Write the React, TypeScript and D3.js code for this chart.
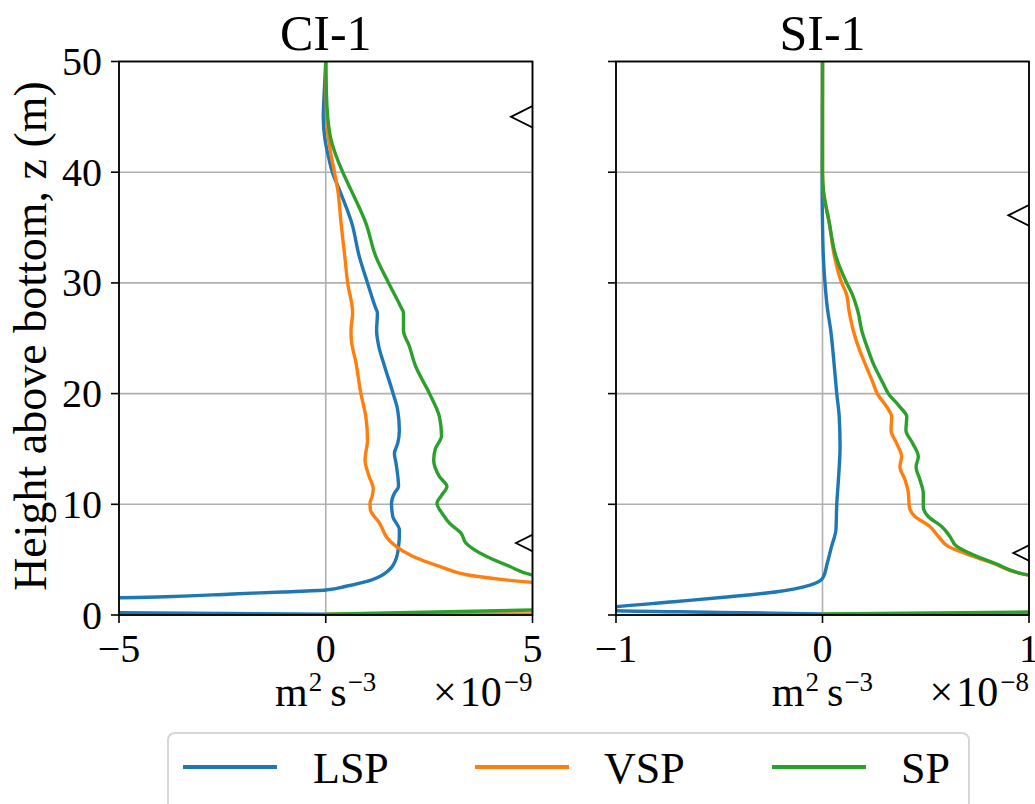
import React from "react";
import * as d3 from "d3";

// ---------- DATA ----------
// CI-1 panel (values in units of 1e-9 m^2 s^-3), z in metres
const CI_LSP_Z = [0.07, 0.22, 0.5, 1.0, 1.56, 1.65, 1.9, 2.08, 2.26, 2.6, 3.2, 4.1, 5.3, 6.2, 7.1, 7.7, 8.9, 10.1, 11.0, 11.6, 13.7, 14.6, 15.5, 16.7, 18.5, 20, 22.5, 24.3, 25.7, 27.3, 27.8, 30, 32.4, 35.4, 38.4, 40, 41.5, 43, 45, 47, 50];
const CI_LSP = [0, -5.3, -40, -40, -5, -3.87, -2.26, -1.05, 0, 0.49, 1.13, 1.54, 1.72, 1.76, 1.78, 1.78, 1.62, 1.59, 1.66, 1.76, 1.7, 1.66, 1.74, 1.78, 1.74, 1.63, 1.42, 1.28, 1.23, 1.25, 1.2, 1.01, 0.81, 0.63, 0.33, 0.16, 0.06, -0.02, -0.06, -0.04, 0];

const CI_VSP_Z = [0.07, 0.12, 0.5, 1.5, 2.5, 2.95, 3.5, 4.4, 5.3, 6.2, 7.1, 7.7, 8.3, 9.5, 10.1, 10.7, 11.4, 12.5, 14.0, 15.8, 17.9, 20, 22.8, 24.8, 25.7, 27.3, 30, 32.4, 35.4, 38.4, 40, 42.9, 45, 50];
const CI_VSP = [0, 8, 60, 30, 7, 5.0, 3.64, 2.75, 2.1, 1.7, 1.46, 1.38, 1.3, 1.08, 1.07, 1.12, 1.15, 1.05, 0.95, 1.01, 0.97, 0.85, 0.73, 0.62, 0.61, 0.65, 0.53, 0.46, 0.37, 0.29, 0.21, 0.07, 0.02, 0];

const CI_SP_Z = [0.07, 0.45, 0.8, 1.5, 2.5, 3.0, 3.6, 4.4, 5.3, 6.5, 7.4, 8.3, 9.0, 10.1, 10.8, 11.6, 12.5, 14.0, 15.0, 16.2, 17.9, 20, 22.5, 24.3, 25.7, 27.3, 27.8, 30, 32.4, 35.4, 38.4, 40, 42.9, 45.9, 50];
const CI_SP = [0, 5.0, 10, 15, 8, 6, 5.0, 4.44, 3.88, 3.39, 3.27, 2.99, 2.85, 2.69, 2.8, 2.93, 2.75, 2.61, 2.65, 2.8, 2.75, 2.51, 2.17, 2.02, 1.88, 1.88, 1.82, 1.52, 1.21, 0.97, 0.61, 0.41, 0.13, 0.03, 0];

const CI_MARK_Z = [45.0, 6.5];
const CI_MARK_TIP = [4.48, 4.6];

// SI-1 panel (values in units of 1e-8 m^2 s^-3)
const SI_LSP_Z = [0.09, 0.24, 0.39, 0.55, 0.75, 1.2, 1.65, 2.1, 2.7, 3.3, 4.67, 6.2, 7.7, 10, 12.2, 15.2, 17.9, 20, 22.7, 25.7, 27.8, 30, 32.4, 35.4, 38.7, 50];
const SI_LSP = [0, -0.5, -1.0, -1.1, -1.0, -0.72, -0.45, -0.22, -0.06, 0, 0.023, 0.044, 0.065, 0.069, 0.077, 0.085, 0.081, 0.069, 0.056, 0.04, 0.023, 0.012, 0.004, 0, -0.002, 0];

const SI_VSP_Z = [0.05, 0.15, 1, 2.5, 3.6, 4.67, 5.3, 6.2, 7.1, 8.0, 8.9, 9.8, 11.0, 12.2, 13.4, 14.3, 15.5, 16.7, 17.9, 18.8, 20, 20.9, 22.7, 23.9, 25.7, 27.3, 29.1, 30, 32.4, 35.4, 38.4, 40, 50];
const SI_VSP = [0, 2, 5, 2, 1.0, 0.827, 0.73, 0.609, 0.561, 0.52, 0.448, 0.42, 0.416, 0.4, 0.375, 0.383, 0.359, 0.332, 0.335, 0.311, 0.265, 0.246, 0.206, 0.18, 0.149, 0.13, 0.114, 0.093, 0.058, 0.033, 0.004, 0, 0];

const SI_SP_Z = [0.09, 0.27, 0.5, 2, 3.6, 4.67, 5.3, 6.2, 7.1, 8.0, 8.9, 9.8, 11.0, 12.2, 13.4, 14.3, 15.5, 16.7, 17.9, 18.8, 20, 20.9, 22.7, 23.9, 25.7, 27.3, 29.1, 30, 32.4, 35.4, 38.4, 40, 50];
const SI_SP = [0, 1.0, 3, 3, 1.0, 0.835, 0.747, 0.65, 0.617, 0.577, 0.512, 0.488, 0.488, 0.472, 0.453, 0.464, 0.437, 0.404, 0.408, 0.375, 0.319, 0.294, 0.246, 0.222, 0.19, 0.173, 0.141, 0.117, 0.065, 0.033, 0.004, 0, 0];

const SI_MARK_Z = [36.1, 5.6];
const SI_MARK_TIP = [0.9, 0.924];

const SERIES = ["LSP", "VSP", "SP"];
const COLORS = ["#1f77b4", "#ff7f0e", "#2ca02c"];
const Y_TICKS = [0, 10, 20, 30, 40, 50];
const CI_X_TICKS = [-5, 0, 5];
const SI_X_TICKS = [-1, 0, 1];
const TITLES = ["CI-1", "SI-1"];
const EXPONENTS = ["9", "8"];

const FONT = "Liberation Serif, DejaVu Serif, serif";
const TOP = 61.5;
const BOTTOM = 615;

function fmt(v: number) {
  return v < 0 ? "\u2212" + Math.abs(v) : String(v);
}

type PanelProps = {
  id: string;
  left: number;
  right: number;
  domain: [number, number];
  xTicks: number[];
  series: { z: number[]; v: number[] }[];
  markZ: number[];
  markTip: number[];
  title: string;
  exponent: string;
  showYLabels: boolean;
};

function Panel(p: PanelProps) {
  const x = d3.scaleLinear().domain(p.domain).range([p.left, p.right]);
  const y = d3.scaleLinear().domain([0, 50]).range([BOTTOM, TOP]);
  const line = d3
    .line<[number, number]>()
    .x((d) => x(d[0]))
    .y((d) => y(d[1]))
    .curve(d3.curveMonotoneY);
  const cx = (p.left + p.right) / 2;
  return (
    <g>
      <defs>
        <clipPath id={p.id}>
          <rect x={p.left} y={TOP} width={p.right - p.left} height={BOTTOM - TOP} />
        </clipPath>
      </defs>
      {Y_TICKS.map((t) => (
        <line key={"gy" + t} x1={p.left} x2={p.right} y1={y(t)} y2={y(t)} stroke="#b0b0b0" strokeWidth={1.6} />
      ))}
      {p.xTicks.map((t) => (
        <line key={"gx" + t} x1={x(t)} x2={x(t)} y1={TOP} y2={BOTTOM} stroke="#b0b0b0" strokeWidth={1.6} />
      ))}
      <g clipPath={`url(#${p.id})`}>
        {p.series.map((s, i) => {
          const pts: [number, number][] = s.z.map((z, k) => [s.v[k], z] as [number, number]).reverse();
          return (
            <path key={i} d={line(pts) || ""} fill="none" stroke={COLORS[i]} strokeWidth={3.4} strokeLinejoin="round" />
          );
        })}
        {p.markZ.map((z, i) => {
          const tx = x(p.markTip[i]);
          const h = (p.right - tx) / 2;
          const yy = y(z);
          return (
            <path
              key={"m" + i}
              d={`M${p.right + 2},${yy - h - 1} L${tx},${yy} L${p.right + 2},${yy + h + 1}`}
              fill="none"
              stroke="#000"
              strokeWidth={1.8}
            />
          );
        })}
      </g>
      <rect x={p.left} y={TOP} width={p.right - p.left} height={BOTTOM - TOP} fill="none" stroke="#000" strokeWidth={1.8} />
      {Y_TICKS.map((t) => (
        <g key={"ty" + t}>
          <line x1={p.left - 8} x2={p.left} y1={y(t)} y2={y(t)} stroke="#000" strokeWidth={1.6} />
          {p.showYLabels && (
            <text x={p.left - 17} y={y(t) + 13.5} textAnchor="end" fontSize={40} fontFamily={FONT}>
              {t}
            </text>
          )}
        </g>
      ))}
      {p.xTicks.map((t) => (
        <g key={"tx" + t}>
          <line x1={x(t)} x2={x(t)} y1={BOTTOM} y2={BOTTOM + 8} stroke="#000" strokeWidth={1.6} />
          <text x={x(t)} y={662} textAnchor="middle" fontSize={40} fontFamily={FONT}>
            {fmt(t)}
          </text>
        </g>
      ))}
      <text x={cx} y={50} textAnchor="middle" fontSize={50} fontFamily={FONT}>
        {p.title}
      </text>
      <text x={cx} y={706} textAnchor="middle" fontSize={42} fontFamily={FONT}>
        <tspan>m</tspan>
        <tspan fontSize={27} dy={-15} dx={1}>2</tspan>
        <tspan dy={15} dx={8}>{"s"}</tspan>
        <tspan fontSize={27} dy={-15} dx={1}>{"\u22123"}</tspan>
      </text>
      <text x={p.right} y={706} textAnchor="end" fontSize={42} fontFamily={FONT}>
        <tspan>{"\u00d7"}</tspan>
        <tspan dx={3}>10</tspan>
        <tspan fontSize={27} dy={-15} dx={2}>{"\u2212" + p.exponent}</tspan>
      </text>
    </g>
  );
}

export default function App() {
  const ciSeries = [
    { z: CI_LSP_Z, v: CI_LSP },
    { z: CI_VSP_Z, v: CI_VSP },
    { z: CI_SP_Z, v: CI_SP },
  ];
  const siSeries = [
    { z: SI_LSP_Z, v: SI_LSP },
    { z: SI_VSP_Z, v: SI_VSP },
    { z: SI_SP_Z, v: SI_SP },
  ];
  const legendLineX = [183, 475, 772];
  const legendTextX = [313, 604, 901];
  return (
    <svg width={1035} height={804} style={{ position: "absolute", left: 0, top: 0, background: "#fff" }}>
      <rect x={0} y={0} width={1035} height={804} fill="#fff" />
      <Panel
        id="clipCI"
        left={119}
        right={532.5}
        domain={[-5, 5]}
        xTicks={CI_X_TICKS}
        series={ciSeries}
        markZ={CI_MARK_Z}
        markTip={CI_MARK_TIP}
        title={TITLES[0]}
        exponent={EXPONENTS[0]}
        showYLabels={true}
      />
      <Panel
        id="clipSI"
        left={616}
        right={1029}
        domain={[-1, 1]}
        xTicks={SI_X_TICKS}
        series={siSeries}
        markZ={SI_MARK_Z}
        markTip={SI_MARK_TIP}
        title={TITLES[1]}
        exponent={EXPONENTS[1]}
        showYLabels={false}
      />
      <text transform="translate(46,336) rotate(-90)" textAnchor="middle" fontSize={46} fontFamily={FONT}>
        Height above bottom, z (m)
      </text>
      <rect x={168} y={733} width={801} height={100} rx={7} fill="#fff" stroke="#d6d6d6" strokeWidth={2} />
      {SERIES.map((s, i) => (
        <g key={s}>
          <line x1={legendLineX[i]} x2={legendLineX[i] + 94} y1={767} y2={767} stroke={COLORS[i]} strokeWidth={4} />
          <text x={legendTextX[i]} y={783} fontSize={44} fontFamily={FONT}>
            {s}
          </text>
        </g>
      ))}
    </svg>
  );
}
